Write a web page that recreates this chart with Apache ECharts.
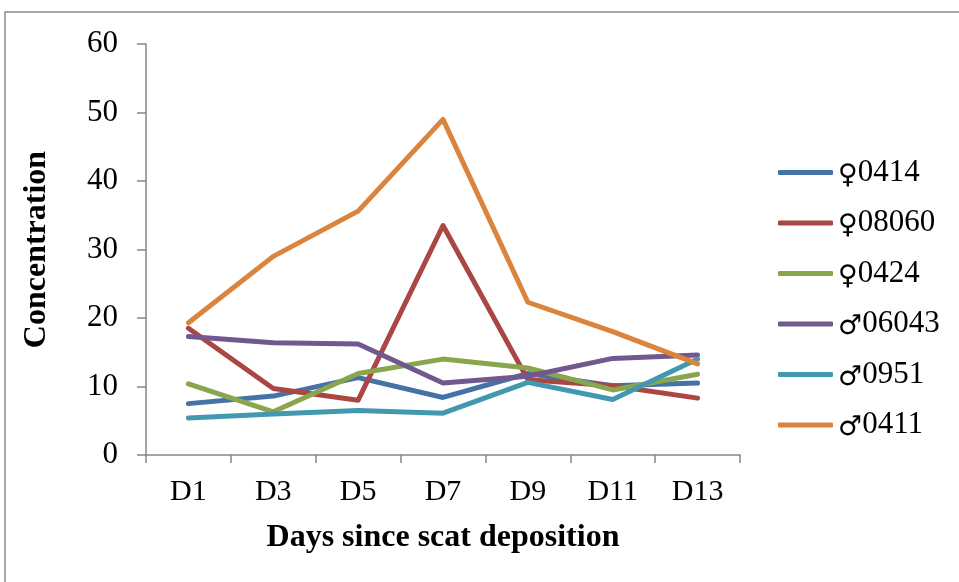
<!DOCTYPE html>
<html>
<head>
<meta charset="utf-8">
<script src="https://cdn.jsdelivr.net/npm/echarts@6/dist/echarts.min.js"></script>
<style>html,body{margin:0;padding:0;background:#fff}#c{width:959px;height:582px}</style>
</head>
<body>
<div id="c"></div>
<script>
const categories = ['D1','D3','D5','D7','D9','D11','D13'];
const seriesNames = ['♀0414','♀08060','♀0424','♂06043','♂0951','♂0411'];
const s0414  = [7.5, 8.6, 11.3, 8.4, 11.9, 10.1, 10.5];
const s08060 = [18.5, 9.7, 8.0, 33.5, 11.0, 10.1, 8.3];
const s0424  = [10.4, 6.3, 11.9, 14.0, 12.7, 9.5, 11.8];
const s06043 = [17.3, 16.4, 16.2, 10.5, 11.5, 14.1, 14.6];
const s0951  = [5.4, 6.0, 6.5, 6.1, 10.6, 8.1, 14.0];
const s0411  = [19.3, 29.0, 35.6, 49.0, 22.3, 18.0, 13.3];
const yTicks = [0, 10, 20, 30, 40, 50, 60];

const allData = [s0414, s08060, s0424, s06043, s0951, s0411];
const colors = ['#4572A7', '#AA4643', '#89A54E', '#71588F', '#4198AF', '#DB843D'];
const font = '"Liberation Serif", "Times New Roman", serif';
const axisColor = '#878787';

const chart = echarts.init(document.getElementById('c'));
chart.setOption({
  animation: false,
  backgroundColor: '#fff',
  color: colors,
  graphic: [{
    type: 'rect',
    shape: { x: 5, y: 12, width: 1200, height: 800 },
    style: { fill: 'none', stroke: '#8a8a8a', lineWidth: 1.5 },
    silent: true
  }],
  grid: { left: 146, right: 219, top: 44, bottom: 127 },
  legend: {
    orient: 'vertical',
    left: 778,
    top: 156,
    padding: 0,
    itemWidth: 55,
    itemHeight: 5,
    itemGap: 17.5,
    icon: 'roundRect',
    formatter: n => '{s|' + n.charAt(0) + '}{t|' + n.slice(1) + '}',
    textStyle: {
      fontFamily: font, fontSize: 31, lineHeight: 31, color: '#000',
      rich: {
        s: { fontFamily: '"DejaVu Sans", sans-serif', fontSize: 27, lineHeight: 31, color: '#000', padding: [6, 0, 0, 0] },
        t: { fontFamily: font, fontSize: 31, lineHeight: 31, color: '#000' }
      }
    },
    data: seriesNames
  },
  xAxis: {
    type: 'category',
    data: categories,
    boundaryGap: true,
    name: 'Days since scat deposition',
    nameLocation: 'middle',
    nameGap: 67,
    nameTextStyle: { fontFamily: font, fontSize: 32, fontWeight: 'bold', color: '#000' },
    axisLine: { lineStyle: { color: axisColor, width: 1.5 } },
    axisTick: { show: true, length: 8, interval: 0, lineStyle: { color: axisColor, width: 1.5 } },
    axisLabel: { fontFamily: font, fontSize: 30, color: '#000', margin: 22 },
    splitLine: { show: false }
  },
  yAxis: {
    type: 'value',
    min: 0, max: 60, interval: 10,
    name: 'Concentration',
    nameLocation: 'middle',
    nameGap: 93,
    nameTextStyle: { fontFamily: font, fontSize: 32, fontWeight: 'bold', color: '#000' },
    axisLine: { show: true, lineStyle: { color: axisColor, width: 1.5 } },
    axisTick: { show: true, length: 9, lineStyle: { color: axisColor, width: 1.5 } },
    axisLabel: {
      fontFamily: font, fontSize: 31, color: '#000', margin: 28,
      formatter: v => (yTicks.indexOf(v) >= 0 ? String(v) : '')
    },
    splitLine: { show: false }
  },
  series: seriesNames.map((n, i) => ({
    name: n,
    type: 'line',
    data: allData[i],
    showSymbol: false,
    symbol: 'none',
    lineStyle: { width: 5, cap: 'round', join: 'round', color: colors[i] },
    itemStyle: { color: colors[i] }
  }))
});
</script>
</body>
</html>
